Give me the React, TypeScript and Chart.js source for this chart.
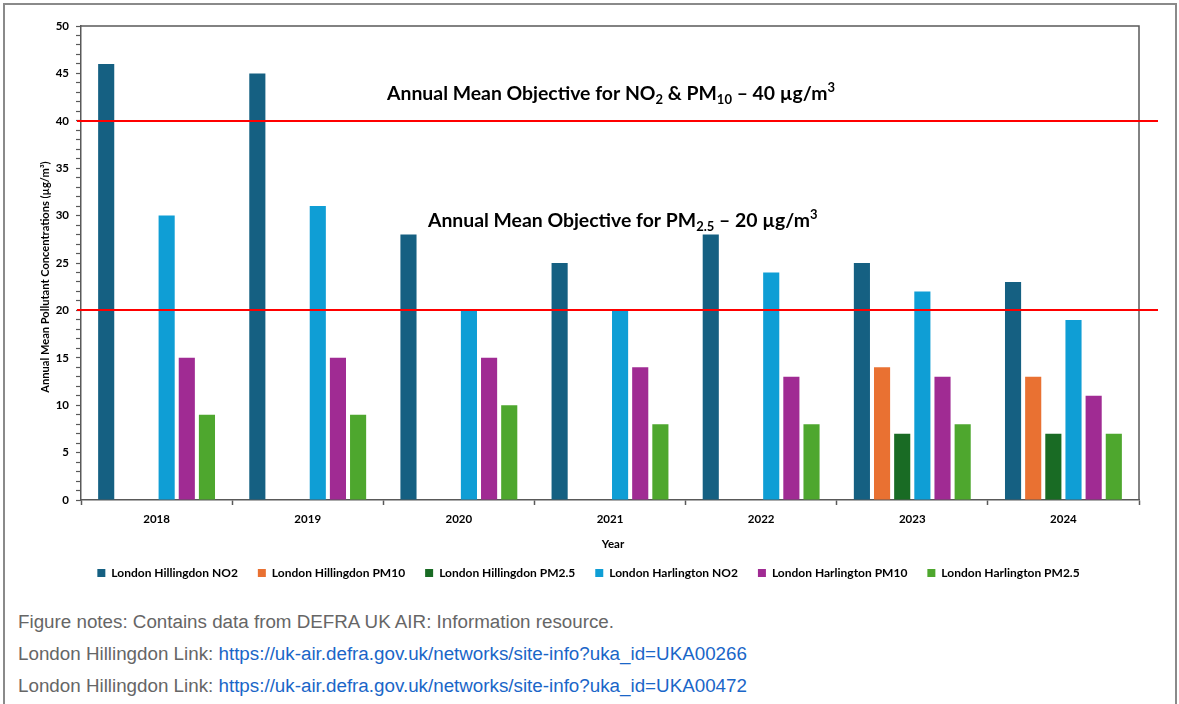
import React, { useEffect, useRef } from 'react';
import { Chart, registerables } from 'chart.js';

Chart.register(...registerables);

const years = ['2018', '2019', '2020', '2021', '2022', '2023', '2024'];
const hillingdonNO2 = [46, 45, 28, 25, 28, 25, 23];
const hillingdonPM10 = [null, null, null, null, null, 14, 13];
const hillingdonPM25 = [null, null, null, null, null, 7, 7];
const harlingtonNO2 = [30, 31, 20, 20, 24, 22, 19];
const harlingtonPM10 = [15, 15, 15, 14, 13, 13, 11];
const harlingtonPM25 = [9, 9, 10, 8, 8, 8, 7];

const seriesLabels = [
  'London Hillingdon NO2',
  'London Hillingdon PM10',
  'London Hillingdon PM2.5',
  'London Harlington NO2',
  'London Harlington PM10',
  'London Harlington PM2.5',
];
const seriesColors = ['#156082', '#E97132', '#196B24', '#0F9ED5', '#A02B93', '#4EA72E'];

const objectiveValues = [40, 20];
type Seg = { t: string; s?: 'sub' | 'sup' };
const objectiveTexts: Seg[][] = [
  [
    { t: 'Annual Mean Objective for NO' },
    { t: '2', s: 'sub' },
    { t: ' & PM' },
    { t: '10', s: 'sub' },
    { t: ' – 40 µg/m' },
    { t: '3', s: 'sup' },
  ],
  [
    { t: 'Annual Mean Objective for PM' },
    { t: '2.5', s: 'sub' },
    { t: ' – 20 µg/m' },
    { t: '3', s: 'sup' },
  ],
];
const yAxisTitle = 'Annual Mean Pollutant Concentrations (µg/m³)';
const xAxisTitle = 'Year';
const yMin = 0;
const yMax = 50;
const yMinorStep = 1;
const yMajorStep = 5;

const FONT = 'Lato, "Open Sans", sans-serif';
const AXIS_COLOR = '#595959';

function drawRich(ctx: CanvasRenderingContext2D, segs: Seg[], cx: number, baseline: number, size: number) {
  const fontFor = (s: Seg) => `bold ${s.s ? Math.round(size * 0.66) : size}px ${FONT}`;
  let total = 0;
  const widths = segs.map((s) => {
    ctx.font = fontFor(s);
    const w = ctx.measureText(s.t).width;
    total += w;
    return w;
  });
  let x = cx - total / 2;
  ctx.textAlign = 'left';
  ctx.textBaseline = 'alphabetic';
  ctx.fillStyle = '#000000';
  segs.forEach((s, i) => {
    ctx.font = fontFor(s);
    const dy = s.s === 'sub' ? size * 0.22 : s.s === 'sup' ? -size * 0.4 : 0;
    ctx.fillText(s.t, x, baseline + dy);
    x += widths[i];
  });
}

const overlayPlugin = {
  id: 'overlay',
  afterDatasetsDraw(chart: any) {
    const { ctx, chartArea: a, scales } = chart;
    const y = scales.y;
    ctx.save();
    // top and right frame of plot area
    ctx.strokeStyle = AXIS_COLOR;
    ctx.lineWidth = 1.5;
    ctx.beginPath();
    ctx.moveTo(a.left, a.top);
    ctx.lineTo(a.right, a.top);
    ctx.lineTo(a.right, a.bottom);
    ctx.stroke();
    // objective lines
    ctx.strokeStyle = '#FF0000';
    ctx.lineWidth = 2;
    objectiveValues.forEach((v) => {
      const py = Math.round(y.getPixelForValue(v));
      ctx.beginPath();
      ctx.moveTo(a.left - 4, py);
      ctx.lineTo(a.right + 19, py);
      ctx.stroke();
    });
    // objective labels
    const labelPos = [
      { xFrac: 0.501, value: 42.19 },
      { xFrac: 0.512, value: 28.85 },
    ];
    objectiveTexts.forEach((segs, i) => {
      const cx = a.left + labelPos[i].xFrac * (a.right - a.left);
      const by = y.getPixelForValue(labelPos[i].value);
      drawRich(ctx, segs, cx, by, 19.4);
    });
    // axis titles
    ctx.fillStyle = '#000000';
    ctx.font = `bold 11.1px ${FONT}`;
    ctx.textAlign = 'center';
    ctx.textBaseline = 'middle';
    ctx.save();
    ctx.translate(a.left - 36, (a.top + a.bottom) / 2 + 14);
    ctx.rotate(-Math.PI / 2);
    ctx.fillText(yAxisTitle, 0, 0);
    ctx.restore();
    ctx.font = `bold 11.5px ${FONT}`;
    ctx.fillText(xAxisTitle, (a.left + a.right) / 2 + 3, a.bottom + 44);
    ctx.restore();
  },
};

function ChartCanvas() {
  const ref = useRef<HTMLCanvasElement | null>(null);
  useEffect(() => {
    if (!ref.current) return;
    const seriesData = [hillingdonNO2, hillingdonPM10, hillingdonPM25, harlingtonNO2, harlingtonPM10, harlingtonPM25];
    const chart = new Chart(ref.current, {
      type: 'bar',
      data: {
        labels: years,
        datasets: seriesData.map((d, i) => ({
          label: seriesLabels[i],
          data: d as any,
          backgroundColor: seriesColors[i],
          borderWidth: 0,
          categoryPercentage: 0.8,
          barPercentage: 0.8,
        })),
      },
      options: {
        animation: false,
        responsive: false,
        maintainAspectRatio: false,
        layout: { padding: { top: 21, left: 33, right: 36, bottom: 11 } },
        plugins: {
          tooltip: { enabled: false },
          legend: {
            position: 'bottom',
            labels: {
              boxWidth: 8,
              boxHeight: 8,
              padding: 20,
              color: '#000000',
              font: { family: FONT, size: 12, weight: 'bold' },
            },
          },
        },
        scales: {
          x: {
            offset: true,
            grid: {
              offset: true,
              drawOnChartArea: false,
              drawTicks: true,
              tickLength: 5,
              tickColor: AXIS_COLOR,
              tickWidth: 1.5,
            },
            border: { display: true, color: AXIS_COLOR, width: 1.5 },
            ticks: {
              color: '#000000',
              padding: 7,
              font: { family: FONT, size: 11.5, weight: 'bold' },
              maxRotation: 0,
            },
            afterFit(scale: any) {
              scale.height = 47;
            },
          },
          y: {
            min: yMin,
            max: yMax,
            grid: {
              drawOnChartArea: false,
              drawTicks: true,
              tickLength: 5,
              tickColor: AXIS_COLOR,
              tickWidth: 1.2,
            },
            border: { display: true, color: AXIS_COLOR, width: 1.5 },
            ticks: {
              stepSize: yMinorStep,
              maxTicksLimit: 100,
              autoSkip: false,
              color: '#000000',
              padding: 7,
              font: { family: FONT, size: 11.5, weight: 'bold' },
              callback: (v: any) => (Number(v) % yMajorStep === 0 ? String(v) : ''),
            },
            afterFit(scale: any) {
              scale.width = 43;
            },
          },
        },
      },
      plugins: [overlayPlugin],
    } as any);
    return () => chart.destroy();
  }, []);
  return <canvas ref={ref} width={1170} height={595} style={{ position: 'absolute', left: 0, top: 0, width: 1170, height: 595 }} />;
}

const noteStyle: React.CSSProperties = {
  position: 'absolute',
  left: 13,
  fontFamily: '"Liberation Sans", Arial, sans-serif',
  fontSize: 18.8,
  lineHeight: '32px',
  color: '#666666',
  whiteSpace: 'nowrap',
};
const linkColor = '#1a66c8';

export default function App() {
  return (
    <div style={{ position: 'absolute', left: 0, top: 0, width: 1179, height: 704, background: '#ffffff', overflow: 'hidden' }}>
      <div
        style={{
          position: 'absolute',
          left: 3,
          top: 3,
          width: 1174,
          height: 720,
          border: '2px solid #8a8a8a',
          boxSizing: 'border-box',
        }}
      >
        <ChartCanvas />
        <div style={{ ...noteStyle, top: 601 }}>Figure notes: Contains data from DEFRA UK AIR: Information resource.</div>
        <div style={{ ...noteStyle, top: 633 }}>
          London Hillingdon Link: <span style={{ color: linkColor }}>https://uk-air.defra.gov.uk/networks/site-info?uka_id=UKA00266</span>
        </div>
        <div style={{ ...noteStyle, top: 665 }}>
          London Hillingdon Link: <span style={{ color: linkColor }}>https://uk-air.defra.gov.uk/networks/site-info?uka_id=UKA00472</span>
        </div>
      </div>
    </div>
  );
}
